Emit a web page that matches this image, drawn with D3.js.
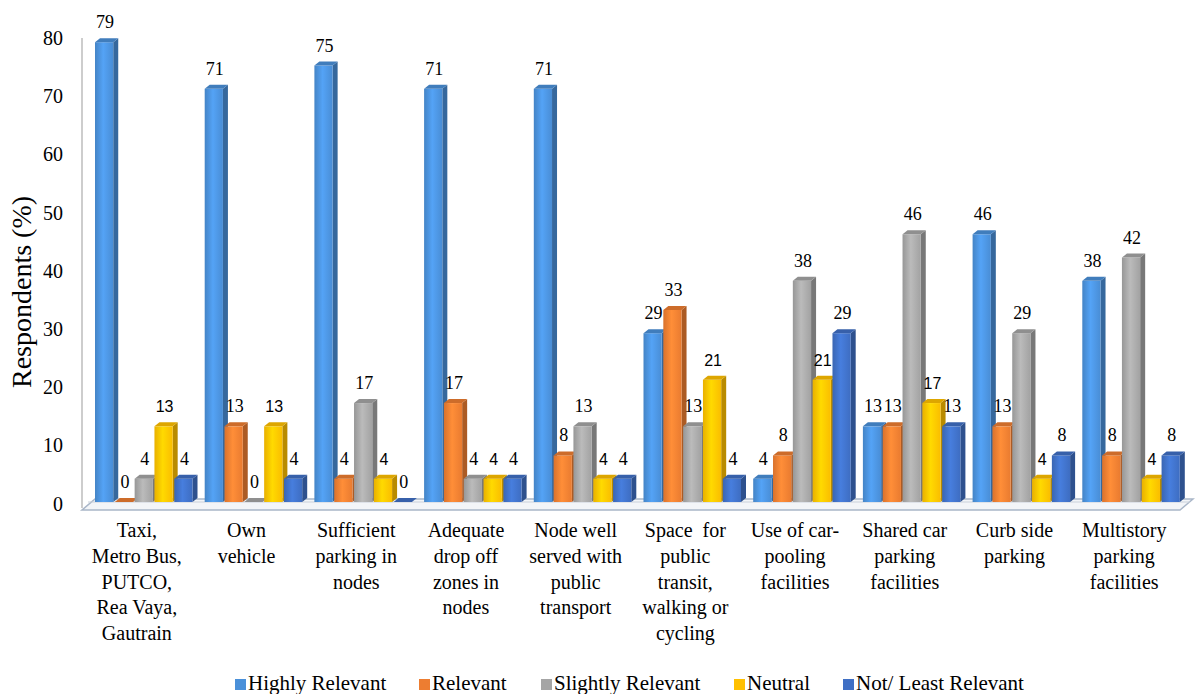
<!DOCTYPE html>
<html lang="en">
<head>
<meta charset="UTF-8">
<title>Respondents chart</title>
<script src="https://cdn.jsdelivr.net/npm/d3@7"></script>
<style>
  body { margin: 0; background: #fff; }
  svg { display: block; }
</style>
</head>
<body>
<svg id="chart" width="1195" height="694"></svg>
<script>
// ---- data ----
let categories = [
  "Taxi, Metro Bus, PUTCO, Rea Vaya, Gautrain",
  "Own vehicle",
  "Sufficient parking in nodes",
  "Adequate drop off zones in nodes",
  "Node well served with public transport",
  "Space for public transit, walking or cycling",
  "Use of car-pooling facilities",
  "Shared car parking facilities",
  "Curb side parking",
  "Multistory parking facilities"
]
let categoryLines = [
  ["Taxi,", "Metro Bus,", "PUTCO,", "Rea Vaya,", "Gautrain"],
  ["Own", "vehicle"],
  ["Sufficient", "parking in", "nodes"],
  ["Adequate", "drop off", "zones in", "nodes"],
  ["Node well", "served with", "public", "transport"],
  ["Space\u00a0 for", "public", "transit,", "walking or", "cycling"],
  ["Use of car-", "pooling", "facilities"],
  ["Shared car", "parking", "facilities"],
  ["Curb side", "parking"],
  ["Multistory", "parking", "facilities"]
]
let seriesNames = ["Highly Relevant", "Relevant", "Slightly Relevant", "Neutral", "Not/ Least Relevant"]
let highlyRelevant = [79, 71, 75, 71, 71, 29, 4, 13, 46, 38]
let relevant       = [0, 13, 4, 17, 8, 33, 8, 13, 13, 8]
let slightly       = [4, 0, 17, 4, 13, 13, 38, 46, 29, 42]
let neutral        = [13, 13, 4, 4, 4, 21, 21, 17, 4, 4]
let notLeast       = [4, 4, 0, 4, 4, 4, 29, 13, 8, 8]
let yTicks = [0, 10, 20, 30, 40, 50, 60, 70, 80]

let seriesValues = [highlyRelevant, relevant, slightly, neutral, notLeast]
let colors = ["#4a90d9", "#ed7d31", "#a5a5a5", "#ffc000", "#3f6fc4"]

let SERIF = "Liberation Serif"
let SANS = "Liberation Sans"

// ---- layout ----
let svg = d3.select('#chart')
let x = d3.scaleBand().domain(categories).range([88, 1185]).padding(0)
let xs = d3.scaleBand().domain(seriesNames).range([7, 104.5]).paddingInner(0.08).paddingOuter(0)
let y = d3.scaleLinear().domain([0, 80]).range([502, 36.4])
let dx = 5, dy = 4

// gradients for 3D faces
let defs = svg.append('defs')
colors.forEach(function (c, i) {
  let g = defs.append('linearGradient').attr('id', 'front' + i)
    .attr('x1', '0%').attr('x2', '100%').attr('y1', '0%').attr('y2', '0%')
  g.append('stop').attr('offset', '0%').attr('stop-color', d3.color(c).darker(0.25))
  g.append('stop').attr('offset', '45%').attr('stop-color', d3.color(c).brighter(0.35))
  g.append('stop').attr('offset', '100%').attr('stop-color', d3.color(c).darker(0.05))
})

// back wall + floor
svg.append('line')
  .attr('x1', 82).attr('x2', 82).attr('y1', 38).attr('y2', 508)
  .attr('stroke', '#bdbdbd').attr('stroke-width', 1.5)
svg.append('polygon')
  .attr('points', [[82, 510], [1180, 510], [1193, 499], [95, 499]].map(p => p.join(',')).join(' '))
  .attr('fill', '#f3f5f8').attr('stroke', '#a9b6c8').attr('stroke-width', 1.5)
svg.append('line')
  .attr('x1', 88).attr('x2', 1190).attr('y1', y(0)).attr('y2', y(0))
  .attr('stroke', '#c9d0da').attr('stroke-width', 1)

// y ticks
svg.append('g').selectAll('text').data(yTicks).join('text')
  .attr('font-family', SERIF).attr('font-size', 20)
  .attr('x', 63).attr('y', d => y(d) + 4)
  .attr('text-anchor', 'end').attr('dominant-baseline', 'middle')
  .text(d => d)

svg.append('text')
  .attr('font-family', SERIF).attr('font-size', 28)
  .attr('transform', 'translate(31,292) rotate(-90)')
  .attr('text-anchor', 'middle')
  .text('Respondents (%)')

// bars
let rows = []
categories.forEach(function (cat, ci) {
  seriesNames.forEach(function (s, si) {
    rows.push({ cat: cat, series: s, si: si, value: seriesValues[si][ci] })
  })
})

let bars = svg.append('g').selectAll('g.bar').data(rows).join('g').attr('class', 'bar')
bars.each(function (d) {
  let g = d3.select(this)
  let x0 = x(d.cat) + xs(d.series)
  let w = xs.bandwidth()
  let yt = y(d.value), yb = y(0)
  let c = colors[d.si]
  // side face
  g.append('polygon')
    .attr('points', [[x0 + w, yt], [x0 + w + dx, yt - dy], [x0 + w + dx, yb - dy], [x0 + w, yb]].map(p => p.join(',')).join(' '))
    .attr('fill', d3.color(c).darker(0.9))
  // front face
  g.append('rect')
    .attr('x', x0).attr('y', yt).attr('width', w).attr('height', Math.max(0, yb - yt))
    .attr('fill', 'url(#front' + d.si + ')')
  // top face
  g.append('polygon')
    .attr('points', [[x0, yt], [x0 + dx, yt - dy], [x0 + w + dx, yt - dy], [x0 + w, yt]].map(p => p.join(',')).join(' '))
    .attr('fill', d3.color(c).darker(0.4))
})

// value labels
svg.append('g').selectAll('text').data(rows).join('text')
  .attr('font-family', d => d.si === 3 ? SANS : SERIF)
  .attr('font-size', d => d.si === 3 ? 16 : 18)
  .attr('x', d => x(d.cat) + xs(d.series) + xs.bandwidth() / 2 + 1)
  .attr('y', d => y(d.value) - 14)
  .attr('text-anchor', 'middle')
  .text(d => d.value)

// category labels
let catG = svg.append('g').selectAll('text').data(categories).join('text')
  .attr('font-family', SERIF).attr('font-size', 20)
  .attr('text-anchor', 'middle')
  .attr('x', d => x(d) + x.bandwidth() / 2 - 6)
  .attr('y', 537)
catG.each(function (d, i) {
  let t = d3.select(this)
  categoryLines[i].forEach(function (line, li) {
    t.append('tspan')
      .attr('x', x(d) + x.bandwidth() / 2 - 6)
      .attr('dy', li === 0 ? 0 : 25.8)
      .text(line)
  })
})

// legend
let legendX = [235, 419, 541, 734, 843]
let leg = svg.append('g').selectAll('g').data(seriesNames).join('g')
  .attr('transform', (d, i) => `translate(${legendX[i]},685)`)
leg.append('rect').attr('x', 0).attr('y', -6).attr('width', 11).attr('height', 11)
  .attr('fill', (d, i) => colors[i])
leg.append('text')
  .attr('font-family', SERIF).attr('font-size', 21)
  .attr('x', 13).attr('y', 0).attr('dominant-baseline', 'middle')
  .text(d => d)
</script>
</body>
</html>
